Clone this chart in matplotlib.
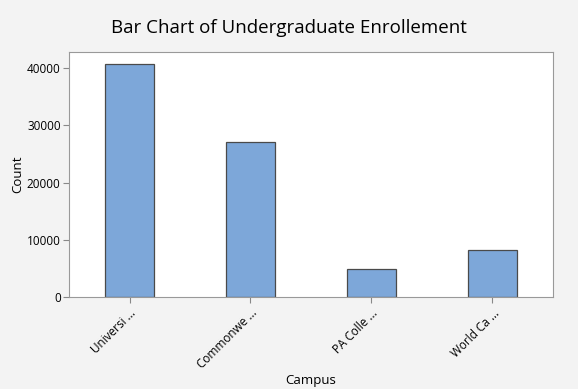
import matplotlib

matplotlib.use("Agg")
import matplotlib.pyplot as plt

campuses = ["Universi ...", "Commonwe ...", "PA Colle ...", "World Ca ..."]
counts = [40700, 27000, 4900, 8200]
y_ticks = [0, 10000, 20000, 30000, 40000]

plt.rcParams["font.family"] = ["Open Sans", "DejaVu Sans"]

fig = plt.figure(figsize=(5.78, 3.89), dpi=100, facecolor="#f3f3f3")
ax = fig.add_axes([0.1194, 0.2365, 0.8373, 0.6298])
ax.set_facecolor("white")

x = range(len(campuses))
ax.bar(x, counts, width=0.4, color="#7da7d9", edgecolor="#4a4a4a", linewidth=0.9)

ax.set_xlim(-0.5, 3.5)
ax.set_ylim(0, 42800)
ax.set_yticks(y_ticks)
ax.set_xticks(list(x))
ax.set_xticklabels(campuses, rotation=45, ha="right", rotation_mode="anchor", fontsize=8.5)
ax.tick_params(axis="y", labelsize=8.5, length=4, color="#888888", pad=2)
ax.tick_params(axis="x", length=4, color="#888888", pad=3)
for s in ax.spines.values():
    s.set_color("#999999")

ax.set_xlabel("Campus", fontsize=9.5)
ax.set_ylabel("Count", fontsize=9.5)
ax.xaxis.set_label_coords(0.5, -0.315)
ax.yaxis.set_label_coords(-0.093, 0.5)
fig.text(0.5, 0.928, "Bar Chart of Undergraduate Enrollement", ha="center", va="center", fontsize=13.5)

fig.savefig("out.png", dpi=100, facecolor=fig.get_facecolor())
